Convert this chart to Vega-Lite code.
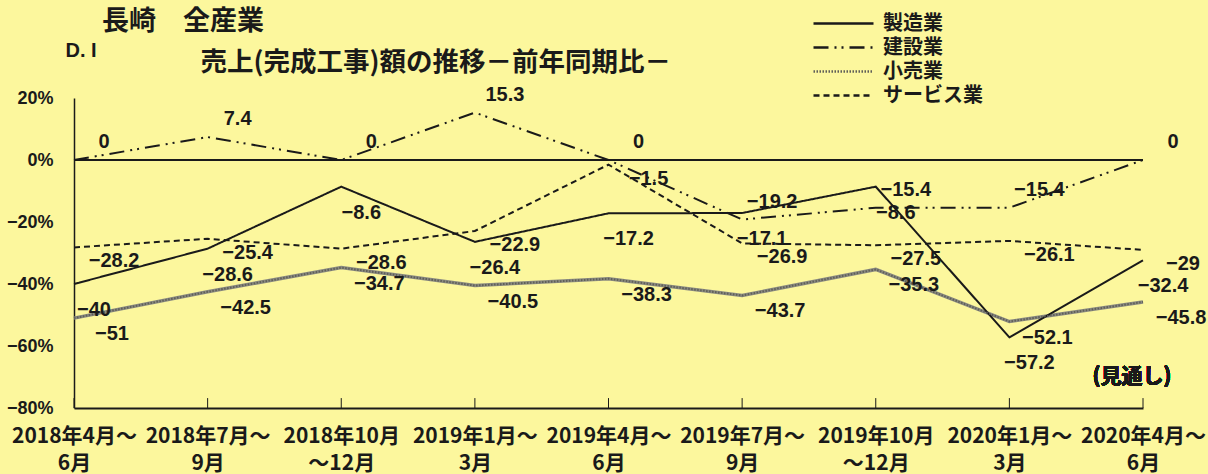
{
  "$schema": "https://vega.github.io/schema/vega-lite/v6.json",
  "width": 1069,
  "height": 310,
  "autosize": {"type": "none"},
  "padding": {"left": 74, "top": 98, "right": 65, "bottom": 66},
  "background": "#fcf79d",
  "config": {"view": {"stroke": null}},
  "title": {
    "text": "長崎　全産業",
    "anchor": "start",
    "frame": "group",
    "dx": 28,
    "dy": 39,
    "font": "Noto Sans CJK JP",
    "fontSize": 27,
    "fontWeight": "bold",
    "color": "#1a1a1a",
    "baseline": "middle",
    "offset": 0
  },
  "data": {
    "values": [
      {"period": "2018年4月～\n6月", "series": "製造業", "value": -40},
      {"period": "2018年7月～\n9月", "series": "製造業", "value": -28.6},
      {"period": "2018年10月\n～12月", "series": "製造業", "value": -8.6},
      {"period": "2019年1月～\n3月", "series": "製造業", "value": -26.4},
      {"period": "2019年4月～\n6月", "series": "製造業", "value": -17.2},
      {"period": "2019年7月～\n9月", "series": "製造業", "value": -17.1},
      {"period": "2019年10月\n～12月", "series": "製造業", "value": -8.6},
      {"period": "2020年1月～\n3月", "series": "製造業", "value": -57.2},
      {"period": "2020年4月～\n6月", "series": "製造業", "value": -32.4},
      {"period": "2018年4月～\n6月", "series": "建設業", "value": 0},
      {"period": "2018年7月～\n9月", "series": "建設業", "value": 7.4},
      {"period": "2018年10月\n～12月", "series": "建設業", "value": 0},
      {"period": "2019年1月～\n3月", "series": "建設業", "value": 15.3},
      {"period": "2019年4月～\n6月", "series": "建設業", "value": 0},
      {"period": "2019年7月～\n9月", "series": "建設業", "value": -19.2},
      {"period": "2019年10月\n～12月", "series": "建設業", "value": -15.4},
      {"period": "2020年1月～\n3月", "series": "建設業", "value": -15.4},
      {"period": "2020年4月～\n6月", "series": "建設業", "value": 0},
      {"period": "2018年4月～\n6月", "series": "小売業", "value": -51},
      {"period": "2018年7月～\n9月", "series": "小売業", "value": -42.5},
      {"period": "2018年10月\n～12月", "series": "小売業", "value": -34.7},
      {"period": "2019年1月～\n3月", "series": "小売業", "value": -40.5},
      {"period": "2019年4月～\n6月", "series": "小売業", "value": -38.3},
      {"period": "2019年7月～\n9月", "series": "小売業", "value": -43.7},
      {"period": "2019年10月\n～12月", "series": "小売業", "value": -35.3},
      {"period": "2020年1月～\n3月", "series": "小売業", "value": -52.1},
      {"period": "2020年4月～\n6月", "series": "小売業", "value": -45.8},
      {"period": "2018年4月～\n6月", "series": "サービス業", "value": -28.2},
      {"period": "2018年7月～\n9月", "series": "サービス業", "value": -25.4},
      {"period": "2018年10月\n～12月", "series": "サービス業", "value": -28.6},
      {"period": "2019年1月～\n3月", "series": "サービス業", "value": -22.9},
      {"period": "2019年4月～\n6月", "series": "サービス業", "value": -1.5},
      {"period": "2019年7月～\n9月", "series": "サービス業", "value": -26.9},
      {"period": "2019年10月\n～12月", "series": "サービス業", "value": -27.5},
      {"period": "2020年1月～\n3月", "series": "サービス業", "value": -26.1},
      {"period": "2020年4月～\n6月", "series": "サービス業", "value": -29}
    ]
  },
  "layer": [
    {
      "mark": {"type": "rule", "color": "#1a1a1a", "strokeWidth": 2},
      "encoding": {"y": {"datum": 0, "type": "quantitative"}}
    },
    {
      "transform": [{"filter": "datum.series === '製造業'"}],
      "mark": {"type": "rule", "color": "#1a1a1a", "strokeWidth": 1},
      "encoding": {
        "x": {"field": "period", "type": "ordinal", "sort": null},
        "y": {"datum": -80, "type": "quantitative"},
        "y2": {"datum": -76.8}
      }
    },
    {
      "transform": [{"filter": "datum.series === '小売業'"}],
      "mark": {"type": "line", "color": "#8a8a80", "strokeWidth": 3.5},
      "encoding": {
        "x": {"field": "period", "type": "ordinal", "sort": null},
        "y": {"field": "value", "type": "quantitative"}
      }
    },
    {
      "mark": {"type": "line", "strokeCap": "butt", "strokeJoin": "miter", "strokeWidth": 2},
      "encoding": {
        "x": {
          "field": "period",
          "type": "ordinal",
          "sort": null,
          "scale": {"type": "point", "padding": 0},
          "title": "売上(完成工事)額の推移－前年同期比－",
          "axis": {
            "orient": "bottom",
            "domain": true,
            "domainColor": "#1a1a1a",
            "domainWidth": 2,
            "ticks": false,
            "grid": false,
            "labelExpr": "split(datum.value, '\\n')",
            "labelAngle": 0,
            "labelAlign": "center",
            "labelFont": "Noto Sans CJK JP",
            "labelFontSize": 21,
            "labelFontWeight": "bold",
            "labelColor": "#1a1a1a",
            "labelLineHeight": 27,
            "labelPadding": 17,
            "labelBaseline": "top",
            "labelOverlap": false,
            "labelFlush": false,
            "titleX": 126,
            "titleY": -346,
            "titleAlign": "left",
            "titleBaseline": "middle",
            "titleFont": "Noto Sans CJK JP",
            "titleFontSize": 26.5,
            "titleFontWeight": "bold",
            "titleColor": "#1a1a1a"
          }
        },
        "y": {
          "field": "value",
          "type": "quantitative",
          "scale": {"domain": [-80, 20], "nice": false, "zero": false},
          "title": "D. I",
          "axis": {
            "values": [-80, -60, -40, -20, 0, 20],
            "domain": true,
            "domainColor": "#1a1a1a",
            "domainWidth": 1.5,
            "ticks": false,
            "grid": false,
            "labelExpr": "datum.label + '%'",
            "labelFont": "Liberation Sans",
            "labelFontSize": 18,
            "labelFontWeight": "bold",
            "labelColor": "#1a1a1a",
            "labelPadding": 21,
            "titleAngle": 0,
            "titleX": -9,
            "titleY": -48,
            "titleAlign": "left",
            "titleBaseline": "middle",
            "titleFont": "Liberation Sans",
            "titleFontSize": 20,
            "titleFontWeight": "bold",
            "titleColor": "#1a1a1a"
          }
        },
        "color": {
          "field": "series",
          "type": "nominal",
          "scale": {"domain": ["製造業", "建設業", "小売業", "サービス業"], "range": ["#1a1a1a", "#1a1a1a", "#5f5f58", "#1a1a1a"]},
          "legend": {
            "orient": "none",
            "legendX": 756,
            "legendY": -88,
            "title": null,
            "symbolType": "M-2.5,0H2.5",
            "symbolSize": 576,
            "symbolStrokeWidth": 2.5,
            "labelFont": "Noto Sans CJK JP",
            "labelFontSize": 20,
            "labelFontWeight": "bold",
            "labelColor": "#1a1a1a",
            "labelOffset": 26,
            "rowPadding": 0,
            "padding": 0
          }
        },
        "strokeDash": {
          "field": "series",
          "type": "nominal",
          "scale": {"domain": ["製造業", "建設業", "小売業", "サービス業"], "range": [[1, 0], [15, 6, 2, 5, 2, 6], [1.5, 1.5], [6, 4]]}
        }
      }
    },
    {
      "transform": [{"filter": "datum.series === '製造業'"}],
      "mark": {"type": "text", "dx": 20, "dy": 26, "font": "Liberation Sans", "fontSize": 20, "fontWeight": "bold", "color": "#1a1a1a", "align": "center", "baseline": "middle"},
      "encoding": {
        "x": {"field": "period", "type": "ordinal", "sort": null},
        "y": {"field": "value", "type": "quantitative"},
        "text": {"field": "value", "type": "quantitative", "format": ".1~f"}
      }
    },
    {
      "transform": [{"filter": "datum.series === '建設業'"}],
      "mark": {"type": "text", "dx": 30, "dy": -18, "font": "Liberation Sans", "fontSize": 20, "fontWeight": "bold", "color": "#1a1a1a", "align": "center", "baseline": "middle"},
      "encoding": {
        "x": {"field": "period", "type": "ordinal", "sort": null},
        "y": {"field": "value", "type": "quantitative"},
        "text": {"field": "value", "type": "quantitative", "format": ".1~f"}
      }
    },
    {
      "transform": [{"filter": "datum.series === '小売業'"}],
      "mark": {"type": "text", "dx": 38, "dy": 16, "font": "Liberation Sans", "fontSize": 20, "fontWeight": "bold", "color": "#1a1a1a", "align": "center", "baseline": "middle"},
      "encoding": {
        "x": {"field": "period", "type": "ordinal", "sort": null},
        "y": {"field": "value", "type": "quantitative"},
        "text": {"field": "value", "type": "quantitative", "format": ".1~f"}
      }
    },
    {
      "transform": [{"filter": "datum.series === 'サービス業'"}],
      "mark": {"type": "text", "dx": 40, "dy": 14, "font": "Liberation Sans", "fontSize": 20, "fontWeight": "bold", "color": "#1a1a1a", "align": "center", "baseline": "middle"},
      "encoding": {
        "x": {"field": "period", "type": "ordinal", "sort": null},
        "y": {"field": "value", "type": "quantitative"},
        "text": {"field": "value", "type": "quantitative", "format": ".1~f"}
      }
    },
    {
      "mark": {"type": "text", "dx": -11, "font": "Noto Sans CJK JP", "fontSize": 21, "fontWeight": "bold", "color": "#1a1a1a", "align": "center", "baseline": "middle", "text": "(見通し)"},
      "encoding": {
        "x": {"datum": "2020年4月～\n6月", "type": "ordinal"},
        "y": {"datum": -70, "type": "quantitative"}
      }
    }
  ]
}
